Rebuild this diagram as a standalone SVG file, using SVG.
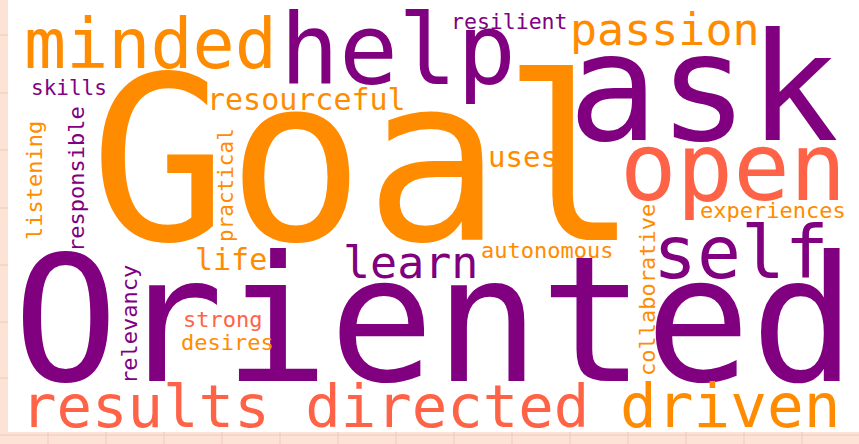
<svg xmlns="http://www.w3.org/2000/svg" width="859" height="444" viewBox="0 0 859 444">
<style>
text{font-family:"DejaVu Sans Mono","Liberation Mono",monospace;}
.o{fill:#ff8c00}.p{fill:#800080}.t{fill:#ff6347}
.g{stroke:#efcbb8;stroke-width:1}
</style>
<g id="background">
<rect x="0" y="0" width="859" height="444" fill="#fde3d6"/>
<g class="g">
<line x1="0" y1="35" x2="8" y2="35"/><line x1="0" y1="93" x2="8" y2="93"/><line x1="0" y1="150" x2="8" y2="150"/><line x1="0" y1="208" x2="8" y2="208"/><line x1="0" y1="265" x2="8" y2="265"/><line x1="0" y1="322" x2="8" y2="322"/><line x1="0" y1="378" x2="8" y2="378"/><line x1="0" y1="435" x2="859" y2="435"/>
<line x1="48" y1="432" x2="48" y2="444"/><line x1="106" y1="432" x2="106" y2="444"/><line x1="164" y1="432" x2="164" y2="444"/><line x1="222" y1="432" x2="222" y2="444"/><line x1="280" y1="432" x2="280" y2="444"/><line x1="338" y1="432" x2="338" y2="444"/><line x1="396" y1="432" x2="396" y2="444"/><line x1="454" y1="432" x2="454" y2="444"/><line x1="512" y1="432" x2="512" y2="444"/><line x1="570" y1="432" x2="570" y2="444"/><line x1="628" y1="432" x2="628" y2="444"/><line x1="686" y1="432" x2="686" y2="444"/><line x1="744" y1="432" x2="744" y2="444"/><line x1="802" y1="432" x2="802" y2="444"/>
</g>
<rect x="8" y="0" width="851" height="432" fill="#ffffff"/>
</g>
<g id="words">
<text id="w-goal" class="o" x="90" y="240" font-size="228">Goal</text>
<text id="w-oriented" class="p" x="13" y="381" font-size="175">Oriented</text>
<text id="w-results" class="t" x="21" y="427" font-size="59">results directed</text>
<text id="w-driven" class="o" x="620" y="427" font-size="61">driven</text>
<text id="w-help" class="p" x="280" y="84" font-size="98">help</text>
<text id="w-ask" class="p" x="568" y="140" font-size="150">ask</text>
<text id="w-open" class="t" x="620" y="200" font-size="94">open</text>
<text id="w-self" class="p" x="653" y="278" font-size="73">self</text>
<text id="w-minded" class="o" x="24" y="68" font-size="70">minded</text>
<text id="w-passion" class="o" x="570" y="45" font-size="45">passion</text>
<text id="w-resilient" class="p" x="451" y="29" font-size="21.5">resilient</text>
<text id="w-skills" class="p" x="31" y="95" font-size="21">skills</text>
<text id="w-resourceful" class="o" x="207" y="110" font-size="30">resourceful</text>
<text id="w-uses" class="o" x="488" y="167" font-size="29">uses</text>
<text id="w-autonomous" class="o" x="481" y="258" font-size="22">autonomous</text>
<text id="w-experiences" class="o" x="700" y="218" font-size="22">experiences</text>
<text id="w-learn" class="p" x="343" y="278" font-size="45">learn</text>
<text id="w-life" class="o" x="195" y="270" font-size="30">life</text>
<text id="w-strong" class="t" x="183" y="327" font-size="22">strong</text>
<text id="w-desires" class="o" x="181" y="350" font-size="22">desires</text>
<text id="w-listening" class="o" transform="translate(42,240) rotate(-90)" font-size="22">listening</text>
<text id="w-responsible" class="p" transform="translate(84,252) rotate(-90)" font-size="22">responsible</text>
<text id="w-practical" class="o" transform="translate(233,242) rotate(-90)" font-size="21">practical</text>
<text id="w-relevancy" class="p" transform="translate(137,384) rotate(-90)" font-size="22">relevancy</text>
<text id="w-collaborative" class="o" transform="translate(655,376) rotate(-90)" font-size="22">collaborative</text>
</g>
</svg>
